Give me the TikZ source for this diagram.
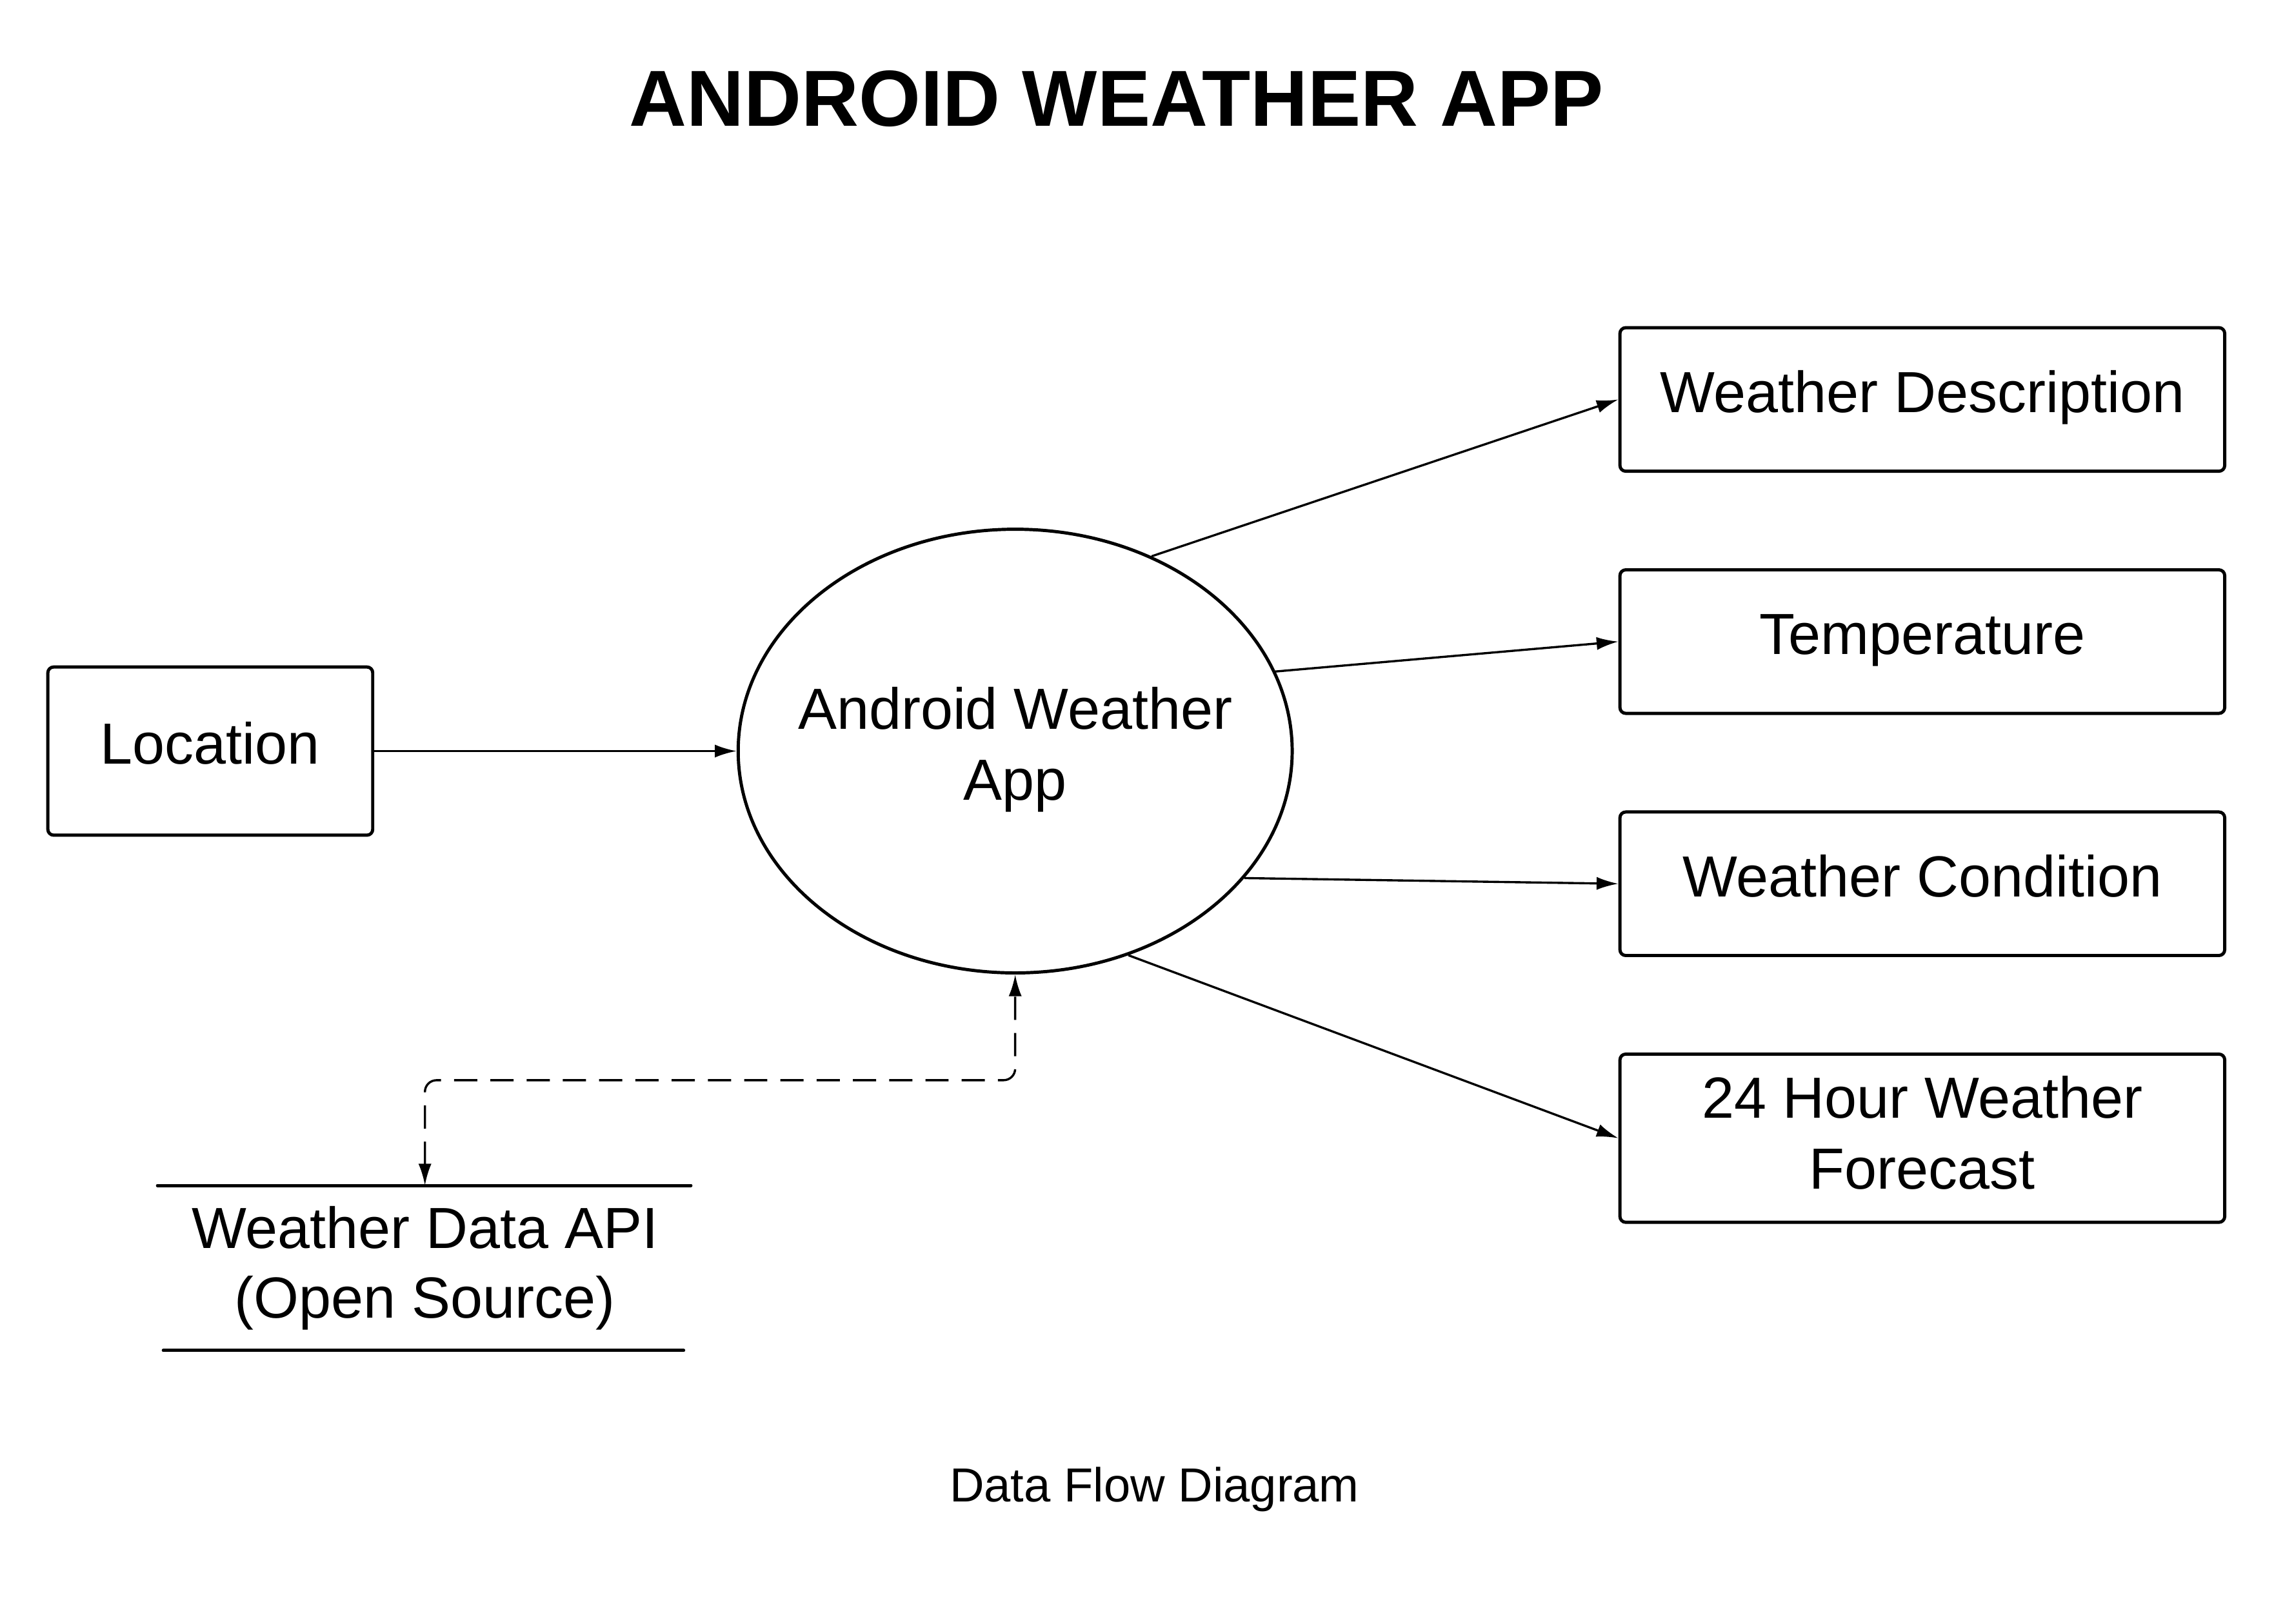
\documentclass[tikz,border=0pt]{standalone}
\usepackage{fontspec}
\setmainfont{Liberation Sans}
\usetikzlibrary{shapes.geometric,arrows.meta}
\begin{document}
\begin{tikzpicture}[x=0.5pt,y=-0.5pt,
  box/.style={draw, line width=1.1pt, rounded corners=2pt, minimum width=208.5pt, minimum height=49.5pt, inner sep=0pt, align=center, font=\fontsize{20}{24.5}\selectfont},
  oneline/.style={text height=14.5pt, text depth=5.7pt},
  proc/.style={draw, ellipse, line width=1.1pt, minimum width=191pt, minimum height=153pt, inner sep=0pt},
  lbl/.style={align=center, font=\fontsize{20}{24.5}\selectfont, inner sep=0pt},
  flow/.style={line width=0.75pt, -{Latex[length=7.5pt,width=4.5pt]}},
  storeline/.style={line width=1.1pt, line cap=round}
]
\useasboundingbox (0,0) rectangle (1568,1120);
\node[font=\fontsize{27.4}{30}\selectfont\bfseries] (title) at (770,68) {ANDROID WEATHER APP};
\node[box, oneline, minimum width=112pt, minimum height=58pt] (loc) at (145,518) {Location};
\node[proc] (app) at (700,518) {};
\node[lbl] (applbl) at (700,517) {Android Weather\\App};
\node[box, oneline] (desc) at (1325.5,275.5) {Weather Description};
\node[box, oneline] (temp) at (1325.5,442.5) {Temperature};
\node[box, oneline] (cond) at (1325.5,609.5) {Weather Condition};
\node[box, minimum height=58pt, text depth=4pt] (fore) at (1325.5,785) {24 Hour Weather\\Forecast};
\node[minimum width=183pt, minimum height=56.5pt, inner sep=0pt, align=center, font=\fontsize{20}{24}\selectfont] (store) at (293,874.5) {Weather Data API\\(Open Source)};
\draw[storeline] ([xshift=-0.5pt]store.north west) -- (store.north east);
\draw[storeline] ([xshift=1.5pt]store.south west) -- ([xshift=-2.5pt]store.south east);
\node[font=\fontsize{16.5}{20}\selectfont] (cap) at (796,1027) {Data Flow Diagram};
\coordinate (bend) at (700,745);
\draw[flow] (loc.east) -- (app.west);
\draw[flow] (app.55.6) -- (desc.west);
\draw[flow] (app.17.2) -- (temp.west);
\draw[flow] (app.-29.1) -- (cond.west);
\draw[flow] (app.-61) -- (fore.west);
\draw[line width=0.75pt, {Latex[length=7.5pt,width=4.5pt]}-{Latex[length=7.5pt,width=4.5pt]}, dash pattern=on 8pt off 4.5pt, rounded corners=4pt] (store.north) |- (bend) -- (app.south);
\end{tikzpicture}
\end{document}
